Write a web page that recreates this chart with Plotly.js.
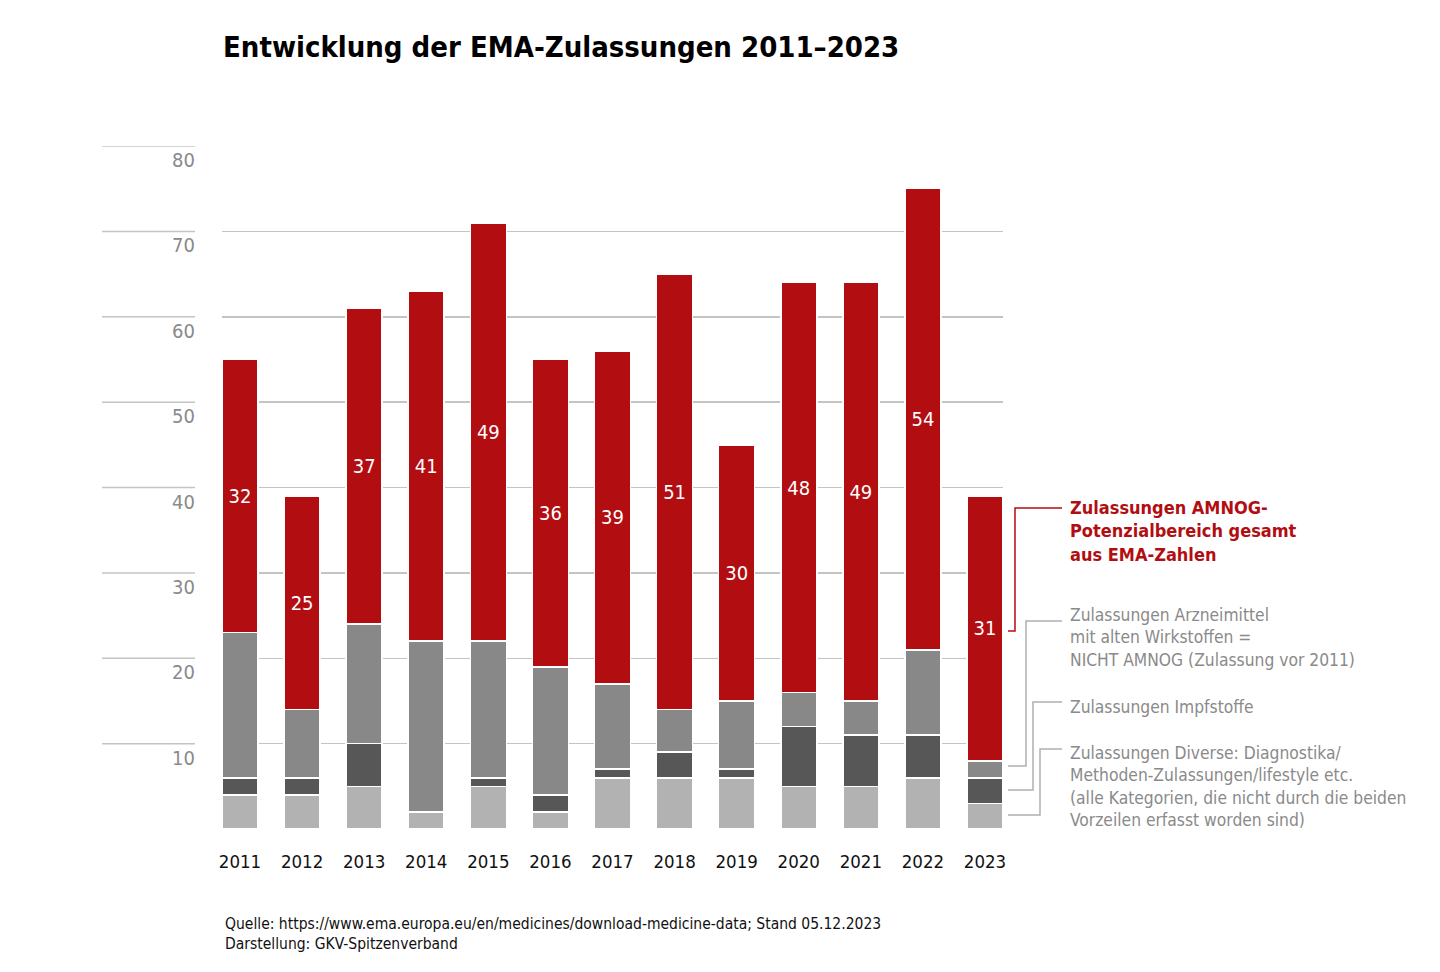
<!DOCTYPE html>
<html>
<head>
<meta charset="utf-8">
<script src="https://cdn.plot.ly/plotly-3.0.1.min.js"></script>
<style>
html,body{margin:0;padding:0;background:#fff;}
#chart{width:1440px;height:972px;}
</style>
</head>
<body>
<div id="chart"></div>
<script>
const years = ['2011','2012','2013','2014','2015','2016','2017','2018','2019','2020','2021','2022','2023'];
const diverse = [4,4,5,2,5,2,6,6,6,5,5,6,3];
const impfstoffe = [2,2,5,0,1,2,1,3,1,7,6,5,3];
const alteWirkstoffe = [17,8,14,20,16,15,10,5,8,4,4,10,2];
const amnog = [32,25,37,41,49,36,39,51,30,48,49,54,31];
const yTicks = [10,20,30,40,50,60,70,80];

const FONT = '"DejaVu Sans Condensed", Roboto, sans-serif';
const RED = '#b20e12';
const C_LIGHT = '#b2b2b2';
const C_DARK = '#575757';
const C_MED = '#888888';
const GRID = '#c4c4c4';
const TXTGRAY = '#8a8a8a';

const L = 222, R = 1003, T = 146, B = 829;
const px = v => (v - L) / (R - L);
const py = v => (B - v) / (B - T);

function barTrace(name, vals, color, withText) {
  const t = {
    type: 'bar', name: name, x: years, y: vals,
    marker: {color: color, line: {color: '#ffffff', width: 1.6}},
    hoverinfo: 'skip', showlegend: false
  };
  if (withText) {
    t.text = vals.map(String);
    t.textposition = 'inside';
    t.insidetextanchor = 'middle';
    t.textangle = 0;
    t.constraintext = 'none';
    t.textfont = {family: FONT, size: 20, color: '#ffffff'};
  } else {
    t.textposition = 'none';
  }
  return t;
}

const data = [
  barTrace('Diverse', diverse, C_LIGHT, false),
  barTrace('Impfstoffe', impfstoffe, C_DARK, false),
  barTrace('Alte Wirkstoffe', alteWirkstoffe, C_MED, false),
  barTrace('AMNOG', amnog, RED, true)
];

const shapes = [];
const annotations = [];

yTicks.forEach(v => {
  shapes.push({type: 'line', xref: 'paper', yref: 'y', x0: px(102), x1: px(195), y0: v, y1: v,
    line: {color: GRID, width: 1.5}, layer: 'below'});
  annotations.push({xref: 'paper', yref: 'y', x: px(197), y: v, yshift: 0, text: String(v),
    xanchor: 'right', yanchor: 'top', showarrow: false,
    font: {family: FONT, size: 20, color: TXTGRAY}});
});

function connector(yStart, xMid, yEnd, color) {
  shapes.push({type: 'path', xref: 'paper', yref: 'paper',
    path: `M ${px(1008)} ${py(yStart)} L ${px(xMid)} ${py(yStart)} L ${px(xMid)} ${py(yEnd)} L ${px(1062)} ${py(yEnd)}`,
    line: {color: color, width: 1.5}});
}
connector(631, 1015, 508, RED);
connector(766, 1026, 621, '#b0b0b0');
connector(790, 1033, 702, '#b0b0b0');
connector(815, 1040, 749, '#b0b0b0');

function label(text, yTop, color, size) {
  annotations.push({xref: 'paper', yref: 'paper', x: px(1068), y: py(yTop), text: text,
    xanchor: 'left', yanchor: 'top', align: 'left', showarrow: false,
    font: {family: FONT, size: size, color: color}});
}
label('<b>Zulassungen AMNOG-<br>Potenzialbereich gesamt<br>aus EMA-Zahlen</b>', 495, RED, 18);
label('Zulassungen Arzneimittel<br>mit alten Wirkstoffen =<br>NICHT AMNOG (Zulassung vor 2011)', 603, TXTGRAY, 17.3);
label('Zulassungen Impfstoffe', 695, TXTGRAY, 17.3);
label('Zulassungen Diverse: Diagnostika/<br>Methoden-Zulassungen/lifestyle etc.<br>(alle Kategorien, die nicht durch die beiden<br>Vorzeilen erfasst worden sind)', 741, TXTGRAY, 17.3);

annotations.push({xref: 'paper', yref: 'paper', x: px(223), y: py(913), text: 'Quelle: https://www.ema.europa.eu/en/medicines/download-medicine-data; Stand 05.12.2023<br>Darstellung: GKV-Spitzenverband',
  xanchor: 'left', yanchor: 'top', align: 'left', showarrow: false,
  font: {family: FONT, size: 15.5, color: '#111111'}});

const layout = {
  width: 1440, height: 972,
  margin: {l: L, r: 1440 - R, t: T, b: 972 - B, pad: 0},
  paper_bgcolor: '#ffffff', plot_bgcolor: '#ffffff',
  barmode: 'stack', bargap: 0.42,
  title: {text: '<b>Entwicklung der EMA-Zulassungen 2011–2023</b>', xref: 'container', x: 223/1440, xanchor: 'left',
    yref: 'container', y: 1 - 47/972, yanchor: 'middle',
    font: {family: FONT, size: 29, color: '#000000'}},
  xaxis: {type: 'category', range: [-0.29, 12.29], showgrid: false, zeroline: false, showline: false,
    ticks: '', ticklabelstandoff: 19, tickfont: {family: FONT, size: 18.5, color: '#111111'}, fixedrange: true},
  yaxis: {range: [0, 80], tickvals: yTicks, showticklabels: false, showgrid: true, gridcolor: GRID, gridwidth: 1.5,
    zeroline: false, showline: false, fixedrange: true},
  shapes: shapes,
  annotations: annotations,
  font: {family: FONT}
};

Plotly.newPlot('chart', data, layout, {displayModeBar: false, staticPlot: true});
</script>
</body>
</html>
